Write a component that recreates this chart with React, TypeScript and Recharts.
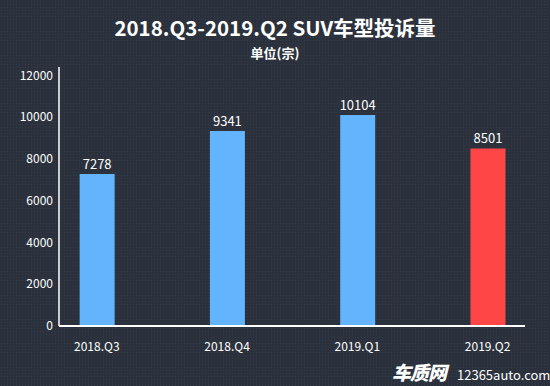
import { BarChart, Bar, Cell, LabelList, XAxis, YAxis } from "recharts";

const categories = ["2018.Q3", "2018.Q4", "2019.Q1", "2019.Q2"];
const complaints = [7278, 9341, 10104, 8501];
const yTicks = [0, 2000, 4000, 6000, 8000, 10000, 12000];
const highlight = "2019.Q2";

const data = categories.map((name, i) => ({ idx: i, name, value: complaints[i] }));

const FONT = '"Noto Sans CJK SC", "Noto Sans", sans-serif';
const BLUE = "#63b4fd";
const RED = "#ff4646";
const BG = "#2a313c";

export default function App() {
  return (
    <div
      style={{
        position: "absolute",
        left: 0,
        top: 0,
        width: 550,
        height: 386,
        fontFamily: FONT,
        color: "#fff",
        backgroundColor: BG,
        backgroundImage:
          "radial-gradient(rgba(255,255,255,0.05) 0.8px, transparent 0.9px)",
        backgroundSize: "3px 3px",
        overflow: "hidden",
      }}
    >
      <div style={{ position: "absolute", top: 12, width: 550, textAlign: "center", fontSize: 20.5, fontWeight: 700 }}>
        2018.Q3-2019.Q2 SUV车型投诉量
      </div>
      <div style={{ position: "absolute", top: 43, width: 550, textAlign: "center", fontSize: 13, fontWeight: 700 }}>
        单位(宗)
      </div>
      <BarChart width={550} height={386} data={data} margin={{ top: 67, right: 25, bottom: 30, left: 0 }}>
        <XAxis
          type="number"
          dataKey="idx"
          height={30}
          domain={[-0.29, 3.287]}
          ticks={[0, 1, 2, 3]}
          tickFormatter={(i: number) => categories[i]}
          axisLine={{ stroke: "#fff", strokeWidth: 2 }}
          tickLine={false}
          tickSize={0}
          tickMargin={16}
          tick={{ fill: "#fff", fontSize: 12, fontFamily: FONT }}
          allowDataOverflow
        />
        <YAxis
          width={59}
          domain={[0, 12400]}
          ticks={yTicks}
          axisLine={{ stroke: "#fff", strokeWidth: 1.5 }}
          tickLine={false}
          tickSize={0}
          tickMargin={6}
          tick={{ fill: "#fff", fontSize: 12, fontFamily: FONT }}
          allowDataOverflow
        />
        <Bar dataKey="value" barSize={35} isAnimationActive={false}>
          {data.map((d) => (
            <Cell key={d.name} fill={d.name === highlight ? RED : BLUE} />
          ))}
          <LabelList dataKey="value" position="top" fill="#fff" fontSize={13} fontFamily={FONT} />
        </Bar>
      </BarChart>
      <div style={{ position: "absolute", left: 392, top: 362, fontSize: 19, lineHeight: "20px", fontWeight: 900, fontStyle: "italic", letterSpacing: -1 }}>
        车质网
      </div>
      <div style={{ position: "absolute", left: 457, top: 366, fontSize: 13, lineHeight: "18px" }}>12365auto.com</div>
    </div>
  );
}
